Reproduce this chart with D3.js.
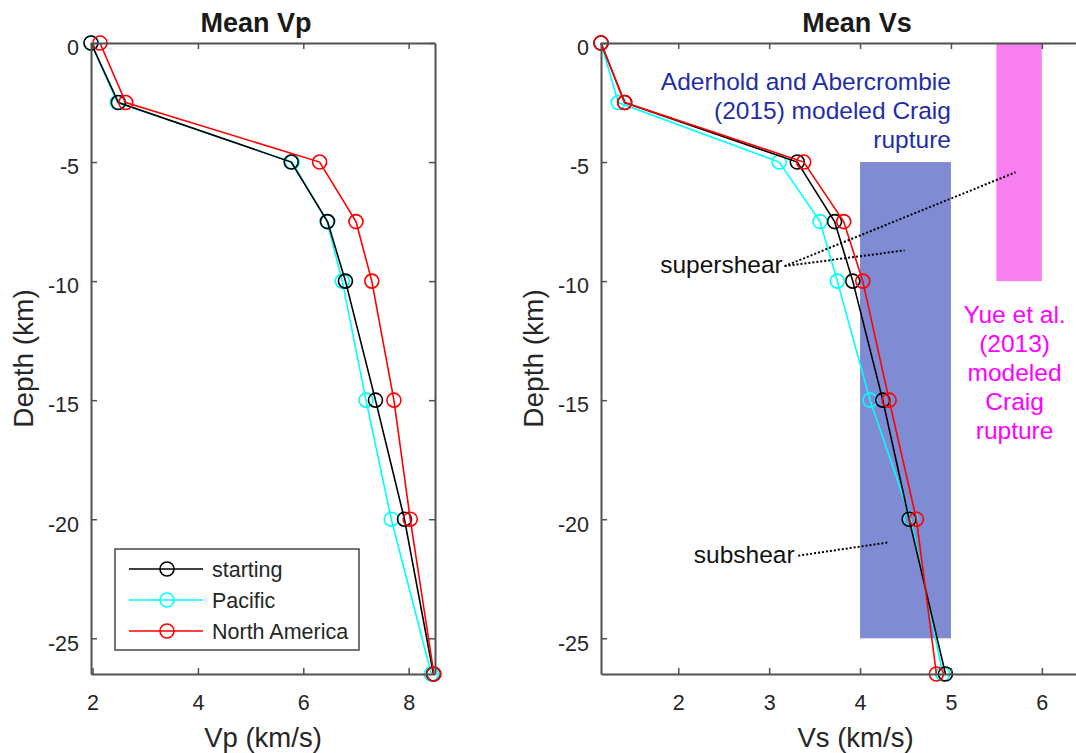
<!DOCTYPE html>
<html>
<head>
<meta charset="utf-8">
<script src="https://cdn.jsdelivr.net/npm/d3@7"></script>
<style>
  html, body { margin: 0; padding: 0; background: #fff; }
  svg { display: block; font-family: "Liberation Sans", Arial, sans-serif; }
</style>
</head>
<body>
<div id="chart"></div>
<script>
// ---- data ----
const depths = [0, -2.5, -5, -7.5, -10, -15, -20, -26.5];

const vpStarting = [1.97, 2.49, 5.77, 6.46, 6.80, 7.37, 7.92, 8.47];
const vpPacific  = [1.97, 2.47, 5.79, 6.45, 6.74, 7.19, 7.67, 8.43];
const vpNorthAm  = [2.14, 2.63, 6.31, 7.00, 7.30, 7.72, 8.03, 8.48];

const vsStarting = [1.15, 1.41, 3.31, 3.72, 3.92, 4.25, 4.54, 4.94];
const vsPacific  = [1.15, 1.34, 3.11, 3.56, 3.75, 4.11, 4.56, 4.91];
const vsNorthAm  = [1.15, 1.41, 3.38, 3.82, 4.03, 4.32, 4.62, 4.84];

const seriesNames = ["starting", "Pacific", "North America"];
const depthTicks = [0, -5, -10, -15, -20, -25];
const vpTicks = [2, 4, 6, 8];
const vsTicks = [2, 3, 4, 5, 6];

// rupture-speed ranges [vs min, vs max], [depth top, depth bottom]
const aderholdVs = [4, 5];
const aderholdDepth = [-5, -25];
const yueVs = [5.5, 6];
const yueDepth = [0, -10];

const aderholdLines = ["Aderhold and Abercrombie", "(2015) modeled Craig", "rupture"];
const yueLines = ["Yue et al.", "(2013)", "modeled", "Craig", "rupture"];

// annotation pointers, in (Vs, depth)
const supershearPointers = [
  [[3.17, -9.37], [5.71, -5.43]],
  [[3.17, -9.37], [4.49, -8.71]]
];
const subshearPointers = [
  [[3.32, -21.53], [4.32, -20.97]]
];

// ---- drawing ----
const W = 1076, H = 753;
const fontStack = '"Liberation Sans", Arial, sans-serif';
const colors = { starting: "#000000", Pacific: "#00ffff", "North America": "#ff0000" };
const drawOrder = ["Pacific", "starting", "North America"];
const axisColor = "#505050";
const textColor = "#262626";

const svg = d3.select("#chart").append("svg")
  .attr("width", W).attr("height", H)
  .attr("viewBox", `0 0 ${W} ${H}`);

svg.append("rect").attr("width", W).attr("height", H).attr("fill", "#fff");

const yTop = 43, yBottom = 674;

const drawPanel = (opt) => {
  const g = svg.append("g");
  const x = d3.scaleLinear().domain(opt.xDomain).range(opt.xRange);
  const y = d3.scaleLinear().domain([0, -26.5]).range([yTop, yBottom]);

  if (opt.before) opt.before(g, x, y);

  // lines + circle markers
  const line = d3.line().x(d => x(d[0])).y(d => y(d[1]));
  drawOrder.forEach(name => {
    const pts = opt.series[name].map((v, i) => [v, depths[i]]);
    g.append("path").datum(pts)
      .attr("d", line)
      .attr("fill", "none")
      .attr("stroke", colors[name])
      .attr("stroke-width", 1.6);
    g.selectAll(null).data(pts).enter().append("circle")
      .attr("cx", d => x(d[0]))
      .attr("cy", d => y(d[1]))
      .attr("r", 7)
      .attr("fill", "none")
      .attr("stroke", colors[name])
      .attr("stroke-width", 1.6);
  });

  const styleAxis = (sel) => {
    sel.attr("font-family", fontStack).attr("font-size", null);
    sel.select(".domain").attr("stroke", axisColor).attr("stroke-width", 2);
    sel.selectAll(".tick line").attr("stroke", axisColor).attr("stroke-width", 1.5);
    sel.selectAll("text")
      .attr("fill", textColor)
      .style("font-size", "21.5px");
  };

  // bottom axis
  g.append("g")
    .attr("transform", `translate(0,${yBottom})`)
    .call(d3.axisBottom(x).tickValues(opt.xTicks).tickFormat(d => d)
      .tickSizeInner(-6).tickSizeOuter(0).tickPadding(21))
    .call(styleAxis);
  // top axis (box)
  g.append("g")
    .attr("transform", `translate(0,${yTop})`)
    .call(d3.axisTop(x).tickValues(opt.xTicks).tickSizeInner(-6).tickSizeOuter(0).tickFormat(""))
    .call(styleAxis);
  // left axis
  const yl = g.append("g")
    .attr("transform", `translate(${opt.xRange[0]},0)`)
    .call(d3.axisLeft(y).tickValues(depthTicks).tickFormat(d => d)
      .tickSizeInner(-6).tickSizeOuter(0).tickPadding(12))
    .call(styleAxis);
  yl.selectAll(".tick text").attr("dy", "0.55em");
  // right axis (box)
  g.append("g")
    .attr("transform", `translate(${opt.xRange[1]},0)`)
    .call(d3.axisRight(y).tickValues(depthTicks).tickSizeInner(-6).tickSizeOuter(0).tickFormat(""))
    .call(styleAxis);

  // titles and labels
  g.append("text")
    .attr("x", opt.titleX).attr("y", 32)
    .attr("text-anchor", "middle")
    .style("font-size", "27px").style("font-weight", "bold")
    .attr("fill", "#1a1a1a")
    .text(opt.title);

  g.append("text")
    .attr("x", (opt.xRange[0] + opt.xRange[1]) / 2).attr("y", 747)
    .attr("text-anchor", "middle")
    .style("font-size", "27.5px")
    .attr("fill", textColor)
    .text(opt.xLabel);

  g.append("text")
    .attr("transform", `translate(${opt.xRange[0] - 58},${(yTop + yBottom) / 2}) rotate(-90)`)
    .attr("text-anchor", "middle")
    .style("font-size", "28px")
    .attr("fill", textColor)
    .text("Depth (km)");

  if (opt.after) opt.after(g, x, y);
};

// ---- Mean Vp ----
drawPanel({
  title: "Mean Vp",
  titleX: 256,
  xLabel: "Vp (km/s)",
  xDomain: [1.97, 8.5],
  xRange: [91, 435],
  xTicks: vpTicks,
  series: { starting: vpStarting, Pacific: vpPacific, "North America": vpNorthAm },
  after: (g) => {
    const lg = g.append("g").attr("transform", "translate(115,549)");
    lg.append("rect")
      .attr("width", 244).attr("height", 101)
      .attr("fill", "#fff")
      .attr("stroke", "#3a3a3a").attr("stroke-width", 1.4);
    seriesNames.forEach((name, i) => {
      const cy = 20 + i * 31;
      lg.append("line")
        .attr("x1", 14).attr("x2", 88).attr("y1", cy).attr("y2", cy)
        .attr("stroke", colors[name]).attr("stroke-width", 1.6);
      lg.append("circle")
        .attr("cx", 52).attr("cy", cy).attr("r", 7)
        .attr("fill", "none").attr("stroke", colors[name]).attr("stroke-width", 1.6);
      lg.append("text")
        .attr("x", 97).attr("y", cy).attr("dy", "0.36em")
        .style("font-size", "21.5px")
        .attr("fill", textColor)
        .text(name);
    });
  }
});

// ---- Mean Vs ----
drawPanel({
  title: "Mean Vs",
  titleX: 857,
  xLabel: "Vs (km/s)",
  xDomain: [1.15, 6.75],
  xRange: [601, 1110],
  xTicks: vsTicks,
  series: { starting: vsStarting, Pacific: vsPacific, "North America": vsNorthAm },
  before: (g, x, y) => {
    g.append("rect")
      .attr("x", x(aderholdVs[0])).attr("y", y(aderholdDepth[0]))
      .attr("width", x(aderholdVs[1]) - x(aderholdVs[0]))
      .attr("height", y(aderholdDepth[1]) - y(aderholdDepth[0]))
      .attr("fill", "#7f8bd3");
    g.append("rect")
      .attr("x", x(yueVs[0])).attr("y", y(yueDepth[0]))
      .attr("width", x(yueVs[1]) - x(yueVs[0]))
      .attr("height", y(yueDepth[1]) - y(yueDepth[0]))
      .attr("fill", "#f77ff0");
  },
  after: (g, x, y) => {
    const dotted = d3.line().x(d => x(d[0])).y(d => y(d[1]));
    supershearPointers.concat(subshearPointers).forEach(seg => {
      g.append("path")
        .attr("d", dotted(seg))
        .attr("fill", "none")
        .attr("stroke", "#000")
        .attr("stroke-width", 2)
        .attr("stroke-dasharray", "2,2");
    });

    g.append("text")
      .attr("x", x(3.15)).attr("y", y(-9.65))
      .attr("text-anchor", "end")
      .style("font-size", "24.5px").attr("fill", "#111")
      .text("supershear");
    g.append("text")
      .attr("x", x(3.28)).attr("y", y(-21.85))
      .attr("text-anchor", "end")
      .style("font-size", "24.5px").attr("fill", "#111")
      .text("subshear");

    // Aderhold and Abercrombie (2015) label, right-aligned to Vs = 5
    const blue = g.append("text")
      .attr("text-anchor", "end")
      .style("font-size", "24.5px")
      .attr("fill", "#1f2ea8");
    aderholdLines.forEach((t, i) => {
      blue.append("tspan")
        .attr("x", x(aderholdVs[1]))
        .attr("y", y(-1.97) + i * 29)
        .text(t);
    });

    // Yue et al. (2013) label, centred under the pink bar
    const pink = g.append("text")
      .attr("text-anchor", "middle")
      .style("font-size", "24.5px")
      .attr("fill", "#ff00ff");
    yueLines.forEach((t, i) => {
      pink.append("tspan")
        .attr("x", x(5.7))
        .attr("y", y(-11.77) + i * 29)
        .text(t);
    });
  }
});
</script>
</body>
</html>
